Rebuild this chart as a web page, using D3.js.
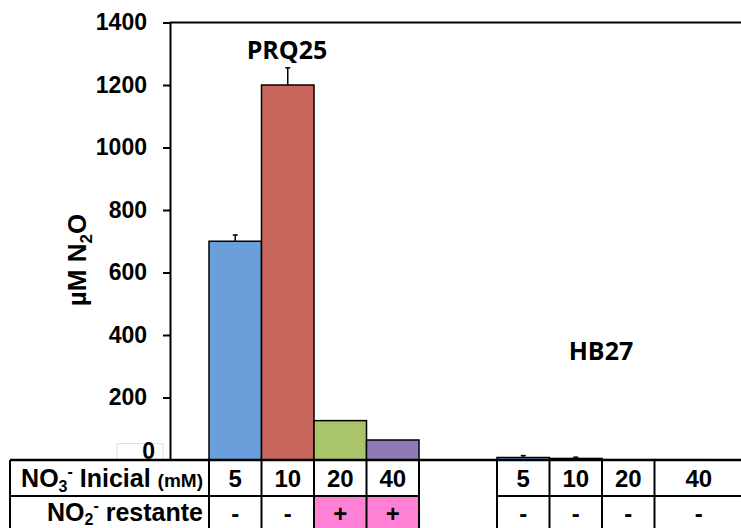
<!DOCTYPE html>
<html>
<head>
<meta charset="utf-8">
<script src="https://cdn.jsdelivr.net/npm/d3@7"></script>
<style>
  html, body { margin: 0; padding: 0; background: #fff; }
  svg { display: block; }
  .lab { font-family: "Liberation Sans", Arial, sans-serif; font-weight: bold; fill: #000; }
  .grp { font-family: "Open Sans", sans-serif; font-weight: bold; fill: #000; }
</style>
</head>
<body>
<svg id="chart" width="741" height="528"></svg>
<script>
// Strains and initial nitrate levels (mM)
const strains = ["PRQ25", "HB27"];
const nitrateLevels = ["5", "10", "20", "40"];

// N2O produced (µM) and standard error per nitrate level
const prq25Values = [700, 1200, 126, 64];
const prq25Errors = [20, 55, 0, 0];
const hb27Values = [8, 5, 1, 1];
const hb27Errors = [6, 4, 0, 0];

// Remaining nitrite at the end of the culture
const prq25Nitrite = ["-", "-", "+", "+"];
const hb27Nitrite = ["-", "-", "-", "-"];

const yTicks = [0, 200, 400, 600, 800, 1000, 1200, 1400];

const levelColors = ["#6a9fdc", "#c9665c", "#aac46a", "#9079b4"];
const positiveFill = "#ff80d5";

const rows = strains.map((s, i) => ({
  strain: s,
  values: i === 0 ? prq25Values : hb27Values,
  errors: i === 0 ? prq25Errors : hb27Errors,
  nitrite: i === 0 ? prq25Nitrite : hb27Nitrite
}));

const svg = d3.select("#chart");
const W = 741;

const plotLeft = 170, plotTop = 22.5, plotBottom = 460;
const tableLeft = 10, tableRow2 = 496, tableBottom = 540, tableEdge = 743;

const y = d3.scaleLinear().domain([0, 1400]).range([plotBottom, plotTop]);
const xGroup = d3.scaleBand().domain(strains).range([209, 707]).paddingInner(0.2708);
const xLevel = d3.scaleBand().domain(nitrateLevels).range([0, xGroup.bandwidth()]);

// Bars
const gGroups = svg.selectAll("g.group").data(rows).join("g")
  .attr("class", "group")
  .attr("transform", d => `translate(${xGroup(d.strain)},0)`);

gGroups.selectAll("rect.bar")
  .data(d => d.values.map((v, i) => ({ level: nitrateLevels[i], v, e: d.errors[i], i })))
  .join("rect")
  .attr("class", "bar")
  .attr("x", d => xLevel(d.level))
  .attr("y", d => y(d.v))
  .attr("width", xLevel.bandwidth())
  .attr("height", d => y(0) - y(d.v))
  .attr("fill", d => levelColors[d.i])
  .attr("stroke", "#000")
  .attr("stroke-width", 1.5);

// Error bars (upper half)
const err = gGroups.selectAll("g.err")
  .data(d => d.values.map((v, i) => ({ level: nitrateLevels[i], v, e: d.errors[i] })).filter(d => d.e > 0))
  .join("g").attr("class", "err")
  .attr("transform", d => `translate(${xLevel(d.level) + xLevel.bandwidth() / 2},0)`);
err.append("line")
  .attr("y1", d => y(d.v)).attr("y2", d => y(d.v + d.e))
  .attr("stroke", "#000").attr("stroke-width", 1.5);
err.append("line")
  .attr("x1", -2.5).attr("x2", 2.5)
  .attr("y1", d => y(d.v + d.e)).attr("y2", d => y(d.v + d.e))
  .attr("stroke", "#000").attr("stroke-width", 1.5);

// Plot frame: top border
svg.append("line")
  .attr("x1", plotLeft).attr("x2", W + 5)
  .attr("y1", plotTop).attr("y2", plotTop)
  .attr("stroke", "#000").attr("stroke-width", 2);

// Y axis
const yAxis = svg.append("g")
  .attr("transform", `translate(${plotLeft},0)`)
  .call(d3.axisLeft(y).tickValues(yTicks).tickSize(7).tickSizeOuter(0).tickPadding(16).tickFormat(d3.format("d")));
yAxis.select(".domain").attr("stroke-width", 2);
yAxis.selectAll(".tick line").attr("stroke-width", 2);
yAxis.selectAll(".tick text")
  .attr("class", "lab")
  .style("font-size", "23px");

// Zero label sits in its own small box
const zeroTick = yAxis.selectAll(".tick").filter(d => d === 0);
zeroTick.insert("rect", "text")
  .attr("x", -53).attr("y", -17).attr("width", 46).attr("height", 17)
  .attr("fill", "#fff").attr("stroke", "#e2e2e2").attr("stroke-width", 1);
zeroTick.select("text").attr("x", -15).attr("dy", "-0.05em");
zeroTick.select("line").remove();

// Baseline / table top
svg.append("line")
  .attr("x1", tableLeft).attr("x2", W + 5)
  .attr("y1", plotBottom).attr("y2", plotBottom)
  .attr("stroke", "#000").attr("stroke-width", 2.5);

// Table
const table = svg.append("g");

function cellBounds(strainIdx, i) {
  const gx = xGroup(strains[strainIdx]);
  const x0 = gx + xLevel(nitrateLevels[i]);
  let x1 = x0 + xLevel.bandwidth();
  if (strainIdx === strains.length - 1 && i === nitrateLevels.length - 1) x1 = tableEdge;
  return [x0, x1];
}

rows.forEach((r, si) => {
  nitrateLevels.forEach((lv, i) => {
    const [x0, x1] = cellBounds(si, i);
    if (r.nitrite[i] === "+") {
      table.append("rect")
        .attr("x", x0).attr("y", tableRow2)
        .attr("width", x1 - x0).attr("height", tableBottom - tableRow2)
        .attr("fill", positiveFill);
    }
    table.append("text").attr("class", "lab")
      .attr("x", (x0 + x1) / 2).attr("y", 487)
      .attr("text-anchor", "middle").style("font-size", "24px")
      .text(lv);
    table.append("text").attr("class", "lab")
      .attr("x", (x0 + x1) / 2).attr("y", 522)
      .attr("text-anchor", "middle").style("font-size", "24px")
      .text(r.nitrite[i]);
    table.append("line")
      .attr("x1", x0).attr("x2", x0).attr("y1", plotBottom).attr("y2", tableBottom)
      .attr("stroke", "#000").attr("stroke-width", 2);
  });
  const gx = xGroup(r.strain);
  const right = si === rows.length - 1 ? tableEdge : gx + xGroup.bandwidth();
  table.append("line")
    .attr("x1", right).attr("x2", right).attr("y1", plotBottom).attr("y2", tableBottom)
    .attr("stroke", "#000").attr("stroke-width", 2);
  table.append("line")
    .attr("x1", gx).attr("x2", right).attr("y1", tableRow2).attr("y2", tableRow2)
    .attr("stroke", "#000").attr("stroke-width", 2);
});

// Row header cells
table.append("line")
  .attr("x1", tableLeft).attr("x2", tableLeft).attr("y1", plotBottom).attr("y2", tableBottom)
  .attr("stroke", "#000").attr("stroke-width", 2);
table.append("line")
  .attr("x1", tableLeft).attr("x2", xGroup(strains[0])).attr("y1", tableRow2).attr("y2", tableRow2)
  .attr("stroke", "#000").attr("stroke-width", 2);

const h1 = table.append("text").attr("class", "lab")
  .attr("x", 203).attr("y", 487).attr("text-anchor", "end").style("font-size", "25px");
h1.append("tspan").text("NO");
h1.append("tspan").attr("dy", 5).style("font-size", "16px").text("3");
h1.append("tspan").attr("dy", -15).style("font-size", "16px").text("-");
h1.append("tspan").attr("dy", 10).text(" Inicial ");
h1.append("tspan").style("font-size", "19px").text("(mM)");

const h2 = table.append("text").attr("class", "lab")
  .attr("x", 203).attr("y", 521).attr("text-anchor", "end").style("font-size", "25px");
h2.append("tspan").text("NO");
h2.append("tspan").attr("dy", 4).style("font-size", "16px").text("2");
h2.append("tspan").attr("dy", -14).style("font-size", "16px").text("-");
h2.append("tspan").attr("dy", 10).text(" restante");

// Y axis title
const yt = svg.append("text").attr("class", "lab")
  .attr("transform", "translate(86,260) rotate(-90)")
  .attr("text-anchor", "middle").style("font-size", "26px");
yt.append("tspan").text("µM N");
yt.append("tspan").attr("dy", 6).style("font-size", "17px").text("2");
yt.append("tspan").attr("dy", -6).text("O");

// Strain labels
svg.append("text").attr("class", "grp")
  .attr("x", xGroup("PRQ25") + xGroup.bandwidth() / 2 - 27).attr("y", 59)
  .attr("text-anchor", "middle").style("font-size", "25px")
  .text("PRQ25");
svg.append("text").attr("class", "grp")
  .attr("x", xGroup("HB27") + xGroup.bandwidth() / 2 - 1).attr("y", 360)
  .attr("text-anchor", "middle").style("font-size", "25px")
  .text("HB27");
</script>
</body>
</html>
